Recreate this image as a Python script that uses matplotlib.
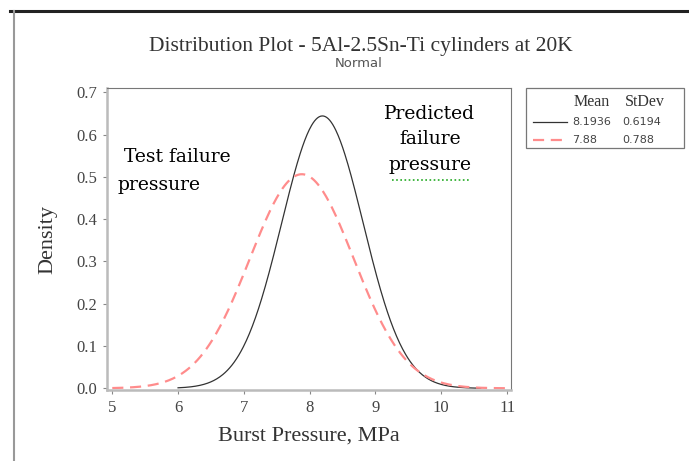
import numpy as np
import matplotlib.pyplot as plt
from matplotlib.lines import Line2D

# Normal fits for burst pressure (MPa)
series_labels = ["8.1936", "7.88"]
series_means = [8.1936, 7.88]
series_sds = [0.6194, 0.788]
sd_labels = ["0.6194", "0.788"]
x_ticks = [5, 6, 7, 8, 9, 10, 11]
y_ticks = [0.0, 0.1, 0.2, 0.3, 0.4, 0.5, 0.6, 0.7]


def normal_pdf(x, mu, sd):
    return np.exp(-0.5 * ((x - mu) / sd) ** 2) / (sd * np.sqrt(2 * np.pi))


fig = plt.figure(figsize=(6.89, 4.61), dpi=100)
ax = fig.add_axes([0.1553, 0.154, 0.5864, 0.655])

serif = ["Liberation Serif", "DejaVu Serif"]
x_lo = [6.0, 5.0]
x_hi = [10.6, 11.0]
styles = [dict(color="#333333", lw=0.9, ls="-"),
          dict(color="#ff8c8c", lw=1.6, ls=(0, (5, 3)))]
for mu, sd, lo, hi, st in zip(series_means, series_sds, x_lo, x_hi, styles):
    x = np.linspace(lo, hi, 400)
    ax.plot(x, normal_pdf(x, mu, sd), **st)

ax.set_xlim(4.92, 11.06)
ax.set_ylim(-0.004, 0.71)
ax.set_xticks(x_ticks)
ax.set_yticks(y_ticks)
ax.set_xticklabels([str(t) for t in x_ticks], family=serif, fontsize=12, color="#444444")
ax.set_yticklabels(["%.1f" % t for t in y_ticks], family=serif, fontsize=12, color="#444444")
ax.tick_params(length=3, width=0.8, color="#888888", pad=4)
for side in ["top", "right"]:
    ax.spines[side].set_color("#777777")
    ax.spines[side].set_linewidth(0.8)
for side in ["left", "bottom"]:
    ax.spines[side].set_color("#bbbbbb")
    ax.spines[side].set_linewidth(1.8)

ax.set_xlabel("Burst Pressure, MPa", family=serif, fontsize=16, color="#333333", labelpad=8)
ax.set_ylabel("Density", family=serif, fontsize=16, color="#333333", labelpad=14)

fig.text(0.524, 0.9, "Distribution Plot - 5Al-2.5Sn-Ti cylinders at 20K",
         ha="center", va="center", family=serif, fontsize=15.5, color="#333333")
fig.text(0.52, 0.863, "Normal", ha="center", va="center", fontsize=9.5, color="#555555")

# text boxes placed on the plot
note_font = ["DejaVu Serif"]
fig.text(0.171, 0.629, " Test failure\npressure", ha="left", va="center",
         family=note_font, fontsize=13.5, color="black", linespacing=1.7)
fig.text(0.624, 0.698, "Predicted\nfailure\npressure", ha="center", va="center",
         family=note_font, fontsize=13.5, color="black", linespacing=1.55)
fig.add_artist(Line2D([0.569, 0.682], [0.609, 0.609], color="#22aa22", lw=1.2,
                      ls=(0, (1, 1.5))))

# legend table with mean and standard deviation
lx0, ly0, lw, lh = 0.763, 0.679, 0.23, 0.13
fig.add_artist(plt.Rectangle((lx0, ly0), lw, lh, transform=fig.transFigure,
                             fill=False, ec="#777777", lw=0.9))
fig.text(0.859, 0.779, "Mean", ha="center", va="center", family=serif,
         fontsize=11.5, color="#333333")
fig.text(0.936, 0.779, "StDev", ha="center", va="center", family=serif,
         fontsize=11.5, color="#333333")
row_y = [0.735, 0.696]
for m, s, st, yy in zip(series_labels, sd_labels, styles, row_y):
    fig.add_artist(Line2D([0.773, 0.823], [yy, yy], color=st["color"],
                          lw=st["lw"], ls=st["ls"]))
    fig.text(0.830, yy, m, ha="left", va="center", fontsize=8, color="#444444")
    fig.text(0.903, yy, s, ha="left", va="center", fontsize=8, color="#444444")

# page border lines
fig.add_artist(Line2D([0.0145, 1.0], [0.976, 0.976], color="#222222", lw=2.2))
fig.add_artist(Line2D([0.0203, 0.0203], [0.976, 0.0], color="#999999", lw=1.5))

fig.savefig("out.png", dpi=100)
